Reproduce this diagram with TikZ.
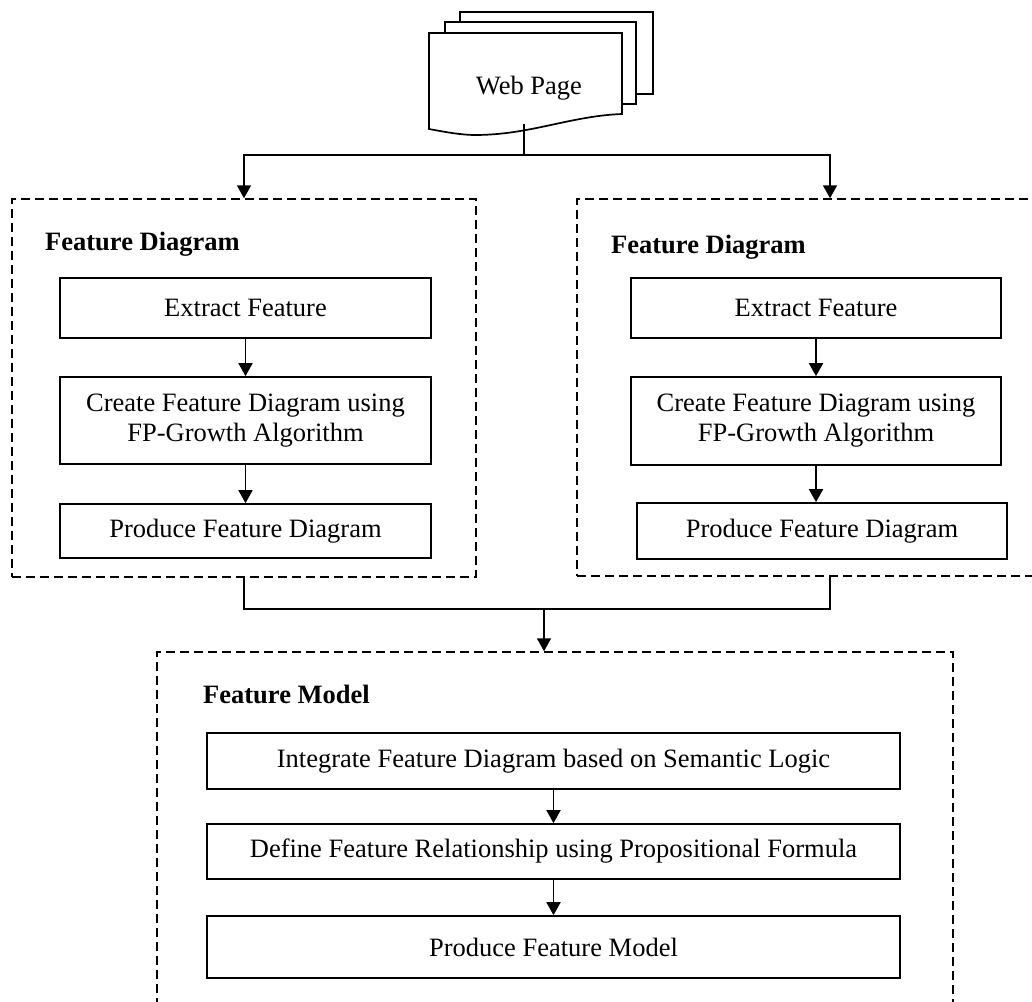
\documentclass[tikz,border=0pt]{standalone}
\usepackage{fontspec}
\setmainfont{Liberation Serif}
\usetikzlibrary{arrows.meta}
\tikzset{
  stepbox/.style={draw, line width=1.7pt, inner sep=0pt, align=center, font=\fontsize{26.5}{30}\selectfont},
  groupbox/.style={draw, dash pattern=on 9pt off 5pt, line width=1.5pt, inner sep=0pt},
  grouptitle/.style={anchor=base west, inner sep=0pt, font=\fontsize{26.5}{30}\selectfont\bfseries},
  link/.style={line width=1.8pt, -{Triangle[length=13pt,width=14pt]}},
  wire/.style={line width=1.8pt},
  page/.style={draw, fill=white, line width=1.7pt},
}

\begin{document}
\begin{tikzpicture}[x=1pt, y=-1pt]
  \useasboundingbox (0,0) rectangle (1032,1001);
  \clip (0,0) rectangle (1032,1001);

  % stack of web pages
  \draw[page] (460,12) rectangle (653,94);
  \draw[page] (445,22) rectangle (636,104);
  \draw[page] (429,33) -- (622,33) -- (622,114)
    .. controls (570,116) and (530,135) .. (475,135)
    .. controls (460,135) and (440,131) .. (429,129) -- cycle;
  \node[font=\fontsize{26.5}{30}\selectfont] (web) at (529,88) {Web Page};
  \coordinate (foot) at (524,124);

  % dashed groups
  \node[groupbox, minimum width=464, minimum height=378] (fdl) at (244,388) {};
  \node[groupbox, minimum width=506, minimum height=377] (fdr) at (830,387.5) {};
  \node[groupbox, minimum width=796, minimum height=358] (fm) at (555,831) {};

  \node[grouptitle] (fdltitle) at (45,250) {Feature Diagram};
  \node[grouptitle] (fdrtitle) at (611,253) {Feature Diagram};
  \node[grouptitle] (fmtitle) at (203,703) {Feature Model};

  % left feature diagram
  \node[stepbox, minimum width=371, minimum height=60] (ex1) at (245.5,308) {Extract Feature};
  \node[stepbox, minimum width=371, minimum height=87] (cr1) at (245.5,420.5) {Create Feature Diagram using\\FP-Growth Algorithm};
  \node[stepbox, minimum width=371, minimum height=54] (pr1) at (245.5,531) {Produce Feature Diagram};

  % right feature diagram
  \node[stepbox, minimum width=370, minimum height=60] (ex2) at (816,308) {Extract Feature};
  \node[stepbox, minimum width=370, minimum height=88] (cr2) at (816,421) {Create Feature Diagram using\\FP-Growth Algorithm};
  \node[stepbox, minimum width=370, minimum height=56] (pr2) at (822,531) {Produce Feature Diagram};

  % feature model
  \node[stepbox, minimum width=693, minimum height=56] (ig) at (553.5,761) {Integrate Feature Diagram based on Semantic Logic};
  \node[stepbox, minimum width=693, minimum height=55] (df) at (553.5,851.5) {Define Feature Relationship using Propositional Formula};
  \node[stepbox, minimum width=693, minimum height=62] (pm) at (553.5,947) {Produce Feature Model};

  \draw[link] (ex1) -- (cr1);
  \draw[link] (cr1) -- (pr1);
  \draw[link] (ex2) -- (cr2);
  \draw[link] (cr2.south) -- (cr2.south |- pr2.north);
  \draw[link] (ig) -- (df);
  \draw[link] (df) -- (pm);

  % page to both diagrams
  \coordinate (split) at (524,155);
  \draw[wire] (foot) -- (split);
  \draw[link] (split) -| (fdl.north);
  \draw[link] (split) -| (fdr.north);

  % both diagrams to the model
  \coordinate (join) at (544,609);
  \draw[wire] (fdl.south) |- (join) -| (fdr.south);
  \draw[link] (join) -- (join |- fm.north);
\end{tikzpicture}
\end{document}
